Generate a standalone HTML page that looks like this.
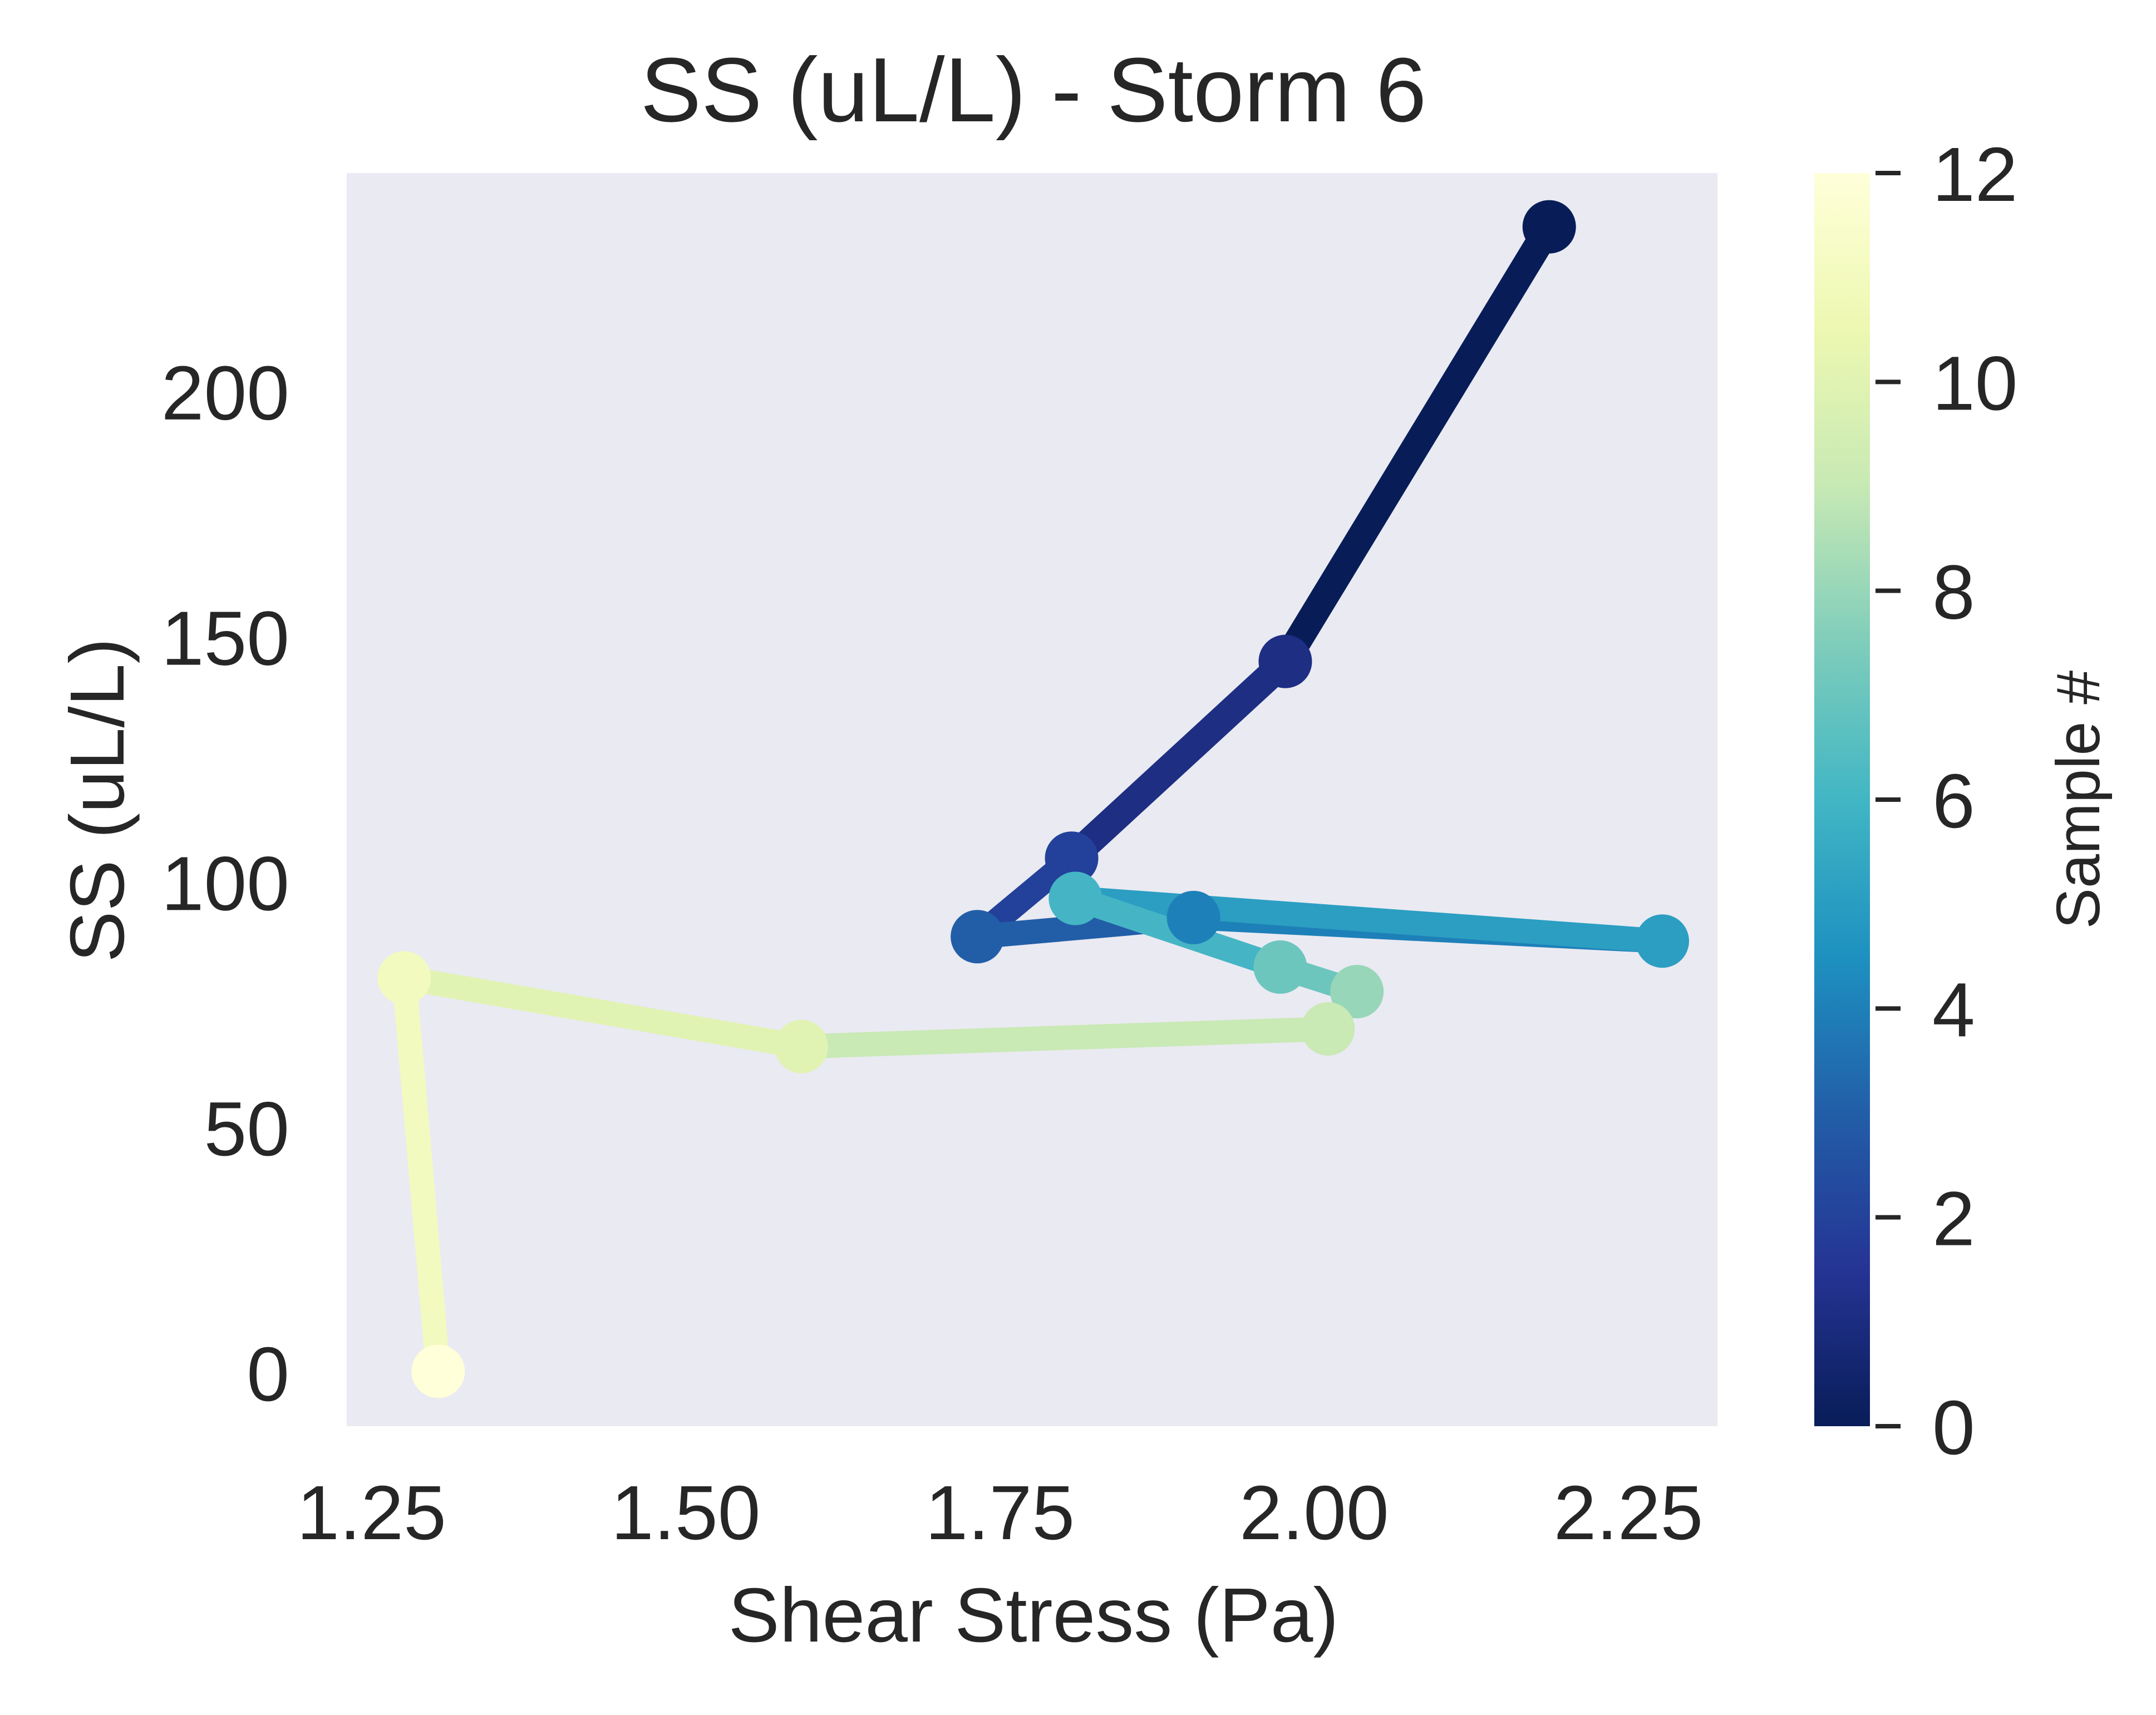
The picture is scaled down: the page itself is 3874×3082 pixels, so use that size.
<!DOCTYPE html>
<html><head><meta charset="utf-8"><style>
html,body{margin:0;padding:0;background:#fff}
svg{display:block}
text{font-family:"Liberation Sans",Arial,sans-serif;fill:#262626}
</style></head><body>
<svg width="3874" height="3082" viewBox="0 0 3874 3082">
<defs>
<linearGradient id="cb" x1="0" y1="1" x2="0" y2="0">
<stop offset="0" stop-color="#081d58"/><stop offset="0.125" stop-color="#253494"/>
<stop offset="0.25" stop-color="#225ea8"/><stop offset="0.375" stop-color="#1d91c0"/>
<stop offset="0.5" stop-color="#41b6c4"/><stop offset="0.625" stop-color="#7fcdbb"/>
<stop offset="0.75" stop-color="#c7e9b4"/><stop offset="0.875" stop-color="#edf8b1"/>
<stop offset="1" stop-color="#ffffd9"/></linearGradient>
</defs>
<rect x="623" y="311" width="2463" height="2252" fill="#eaeaf2"/>
<g id="marks"></g>
<text x="1857" y="218" font-size="164" text-anchor="middle">SS (uL/L) - Storm 6</text>
<g id="xticks"></g><g id="yticks"></g>
<text x="1857" y="2950" font-size="138" text-anchor="middle">Shear Stress (Pa)</text>
<text transform="translate(222,1438) rotate(-90)" font-size="138" text-anchor="middle">SS (uL/L)</text>
<rect x="3260" y="311" width="100" height="2252" fill="url(#cb)"/>
<g id="cbticks"></g>
<text transform="translate(3772,1437) rotate(-90)" font-size="110" text-anchor="middle">Sample #</text>
</svg>
<script>
const xs=[2.187,1.977,1.807,1.732,1.904,2.277,1.810,1.973,2.034,2.011,1.592,1.276,1.303];
const ys=[233.6,145,104.9,88.9,92.8,88,96.7,82.7,77.7,70.1,66.5,80.5,0.3];
const colors=["#081d58","#1d2e83","#23419a","#225ea8","#1e80b8","#2b9ec2","#45b5c5","#6cc6be","#98d6b9","#c9e9b5","#e0f3b2","#f2fabf","#ffffd9"];
const xTicks=[1.25,1.5,1.75,2.0,2.25];
const yTicks=[0,50,100,150,200];
const cbTicks=[0,2,4,6,8,10,12];
const NS="http://www.w3.org/2000/svg";
const X=v=>667.6+(v-1.25)/0.25*564.6;
const Y=v=>2467-v/50*440.8;
const CB=v=>2563-v/12*2252;
function mk(t,a,p){const e=document.createElementNS(NS,t);for(const k in a)e.setAttribute(k,a[k]);p.appendChild(e);return e;}
const g=document.getElementById('marks');
for(let i=0;i<xs.length-1;i++){
 const l=mk('line',{x1:X(xs[i]),y1:Y(ys[i]),x2:X(xs[i+1]),y2:Y(ys[i+1]),stroke:colors[i],'stroke-width':i<2?50:44},g);
 
 
}
for(let i=0;i<xs.length;i++){
 const c=mk('circle',{cx:X(xs[i]),cy:Y(ys[i]),r:48,fill:colors[i]},g);
 
 
}
const xg=document.getElementById('xticks');
xTicks.forEach(v=>{const t=mk('text',{x:X(v),y:2766,'font-size':138,'text-anchor':'middle'},xg);t.textContent=v.toFixed(2);
 
 });
const yg=document.getElementById('yticks');
yTicks.forEach(v=>{const t=mk('text',{x:520,y:Y(v)+50,'font-size':138,'text-anchor':'end'},yg);t.textContent=v;
 
 });
const cg=document.getElementById('cbticks');
cbTicks.forEach(v=>{const l=mk('line',{x1:3370,x2:3415,y1:CB(v),y2:CB(v),stroke:'#262626','stroke-width':8},cg);
 
 
 const t=mk('text',{x:3472,y:CB(v)+50,'font-size':138},cg);t.textContent=v;
 
 });
</script>
</body></html>
